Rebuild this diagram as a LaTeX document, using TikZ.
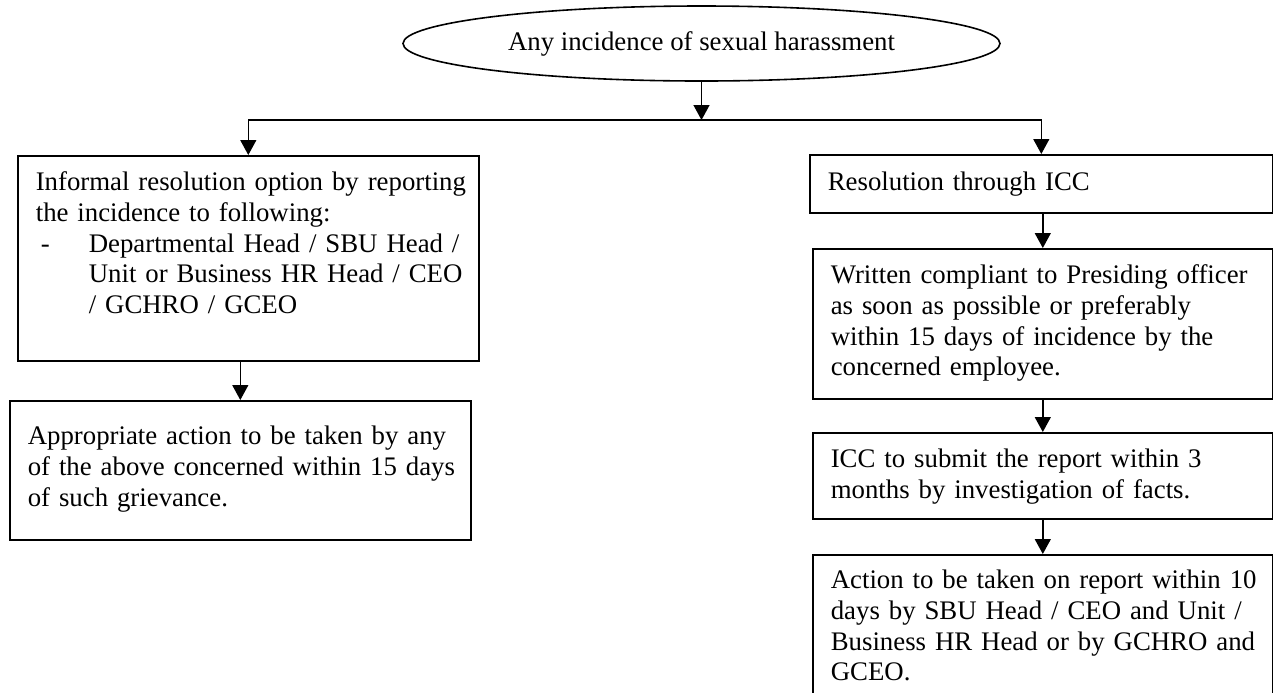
\documentclass[tikz,border=0pt]{standalone}
\usepackage{fontspec}
\setmainfont{Liberation Serif}
\usetikzlibrary{shapes.geometric,arrows.meta}

\newcommand{\boxlines}[1]{\begin{tabular}[t]{@{}l@{}}#1\end{tabular}}

\begin{document}
\begin{tikzpicture}[x=0.5pt,y=-0.5pt]
    \tikzstyle{txt}=[font=\fontsize{13.4pt}{15.3pt}\selectfont]
    \tikzstyle{oval}=[txt,ellipse,draw,line width=0.8pt,inner sep=0pt,minimum width=298.5pt,minimum height=37.5pt]
    \tikzstyle{box}=[txt,rectangle,draw,line width=0.8pt,anchor=north west,align=left,inner xsep=9pt,inner ysep=8.5pt,text height=9pt]
    \tikzstyle{arr}=[line width=0.7pt,-{Triangle[length=7.5pt,width=8pt]}]
    \useasboundingbox (0,0) rectangle (1273,692);

    \node[oval] (harass) at (701.5,43.5) {Any incidence of sexual harassment};
    \coordinate (split) at (701.5,120);

    \node[box,text width=212.5pt,text depth=76.5pt] (informal) at (17,155)
        {\boxlines{Informal resolution option by reporting\\
         the incidence to following:\\
         \makebox[26.5pt][l]{\hspace{2.5pt}-}Departmental Head / SBU Head /\\
         \hspace*{26.5pt}Unit or Business HR Head / CEO\\
         \hspace*{26.5pt}/ GCHRO / GCEO}};
    \node[box,text width=212.5pt,text height=13.5pt,text depth=39pt] (action) at (9,400)
        {\boxlines{Appropriate action to be taken by any\\
         of the above concerned within 15 days\\
         of such grievance.}};

    \node[box,text width=213.5pt,text height=9.5pt,text depth=2.5pt] (icc) at (809,154)
        {Resolution through ICC};
    \node[box,text width=212pt,text depth=49pt] (written) at (812,248)
        {\boxlines{Written compliant to Presiding officer\\
         as soon as possible or preferably\\
         within 15 days of incidence by the\\
         concerned employee.}};
    \node[box,text width=212pt,text depth=17pt] (report) at (812,432)
        {\boxlines{ICC to submit the report within 3\\
         months by investigation of facts.}};
    \node[box,text width=212pt,text height=8.5pt,text depth=47.5pt] (final) at (812,554)
        {\boxlines{Action to be taken on report within 10\\
         days by SBU Head / CEO and Unit /\\
         Business HR Head or by GCHRO and\\
         GCEO.}};

    \draw[arr] (harass) -- (split);
    \draw[arr] (split) -| (informal);
    \draw[arr] (split) -| (icc);
    \draw[arr] (informal.south -| action.north) -- (action.north);
    \draw[arr] (icc.south -| written.north) -- (written.north);
    \draw[arr] (written.south) -- (report.north);
    \draw[arr] (report.south) -- (final.north);

\end{tikzpicture}
\end{document}
